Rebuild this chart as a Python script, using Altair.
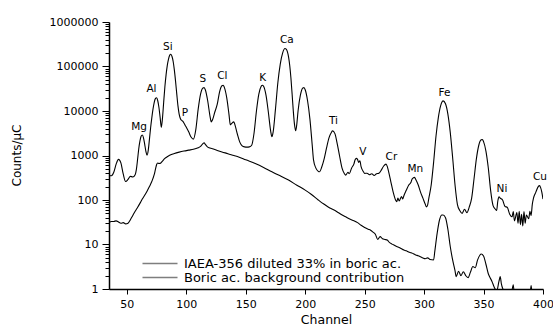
import altair as alt
import pandas as pd

S1 = "IAEA-356 diluted 33% in boric ac."
S2 = "Boric ac. background contribution"

# (channel, counts/uC)
iaea = [(35, 360),(37, 350),(39, 420),(41, 640),(43, 820),(45, 680),(47, 380),(49, 260),(51, 290),(53, 340),
        (55, 330),(57, 370),(58, 480),(59, 800),(60, 1400),(61, 2100),(62, 2700),(63, 2880),(64, 2500),(65, 1800),
        (66, 1250),(67, 1020),(68, 1300),(69, 2300),(70, 4200),(71, 7000),(72, 11000),(73, 15500),(74, 19000),
        (75, 19800),(76, 17000),(77, 12000),(78, 7200),(79, 4300),(80, 7000),(81, 16000),(82, 35000),(83, 65000),
        (84, 105000),(85, 145000),(86, 178000),(87, 188000),(88, 168000),(89, 128000),(90, 82000),(91, 46000),
        (92, 24000),(93, 13000),(94, 8500),(95, 6800),(96, 6200),(97, 5900),(98, 5400),(99, 4800),(100, 4300),
        (102, 3400),(104, 2600),(106, 2330),(108, 3800),(110, 11000),(112, 24000),(114, 33000),(115, 33600),
        (116, 30000),(118, 17000),(120, 7500),(121, 5700),(122, 6300),(124, 9500),(126, 14000),(128, 27000),
        (130, 37000),(131, 37900),(132, 34000),(134, 20000),(136, 8000),(137, 4900),(138, 5200),(140, 5700),
        (141, 4800),(143, 3000),(145, 2000),(147, 1650),(149, 1560),(151, 1540),(153, 1560),(155, 1700),
        (157, 3200),(159, 10000),(161, 24000),(163, 36000),(164, 37900),(165, 36000),(167, 23000),(169, 9500),
        (171, 3500),(172, 2630),(173, 3300),(175, 11000),(177, 43000),(179, 112000),(181, 200000),(183, 253000),
        (184, 245000),(185, 215000),(186, 165000),(187, 105000),(188, 55000),(189, 24000),(190, 10000),
        (191, 5000),(192, 3600),(193, 5200),(194, 10000),(196, 23000),(198, 33000),(199, 33600),(200, 30000),
        (202, 17000),(204, 6500),(206, 1600),(207, 800),(209, 520),(211, 440),(212, 430),(214, 560),(216, 850),
        (218, 1500),(220, 2500),(222, 3300),(223, 3570),(225, 3100),(227, 1800),(229, 950),(231, 520),(233, 390),
        (234, 363),(236, 420),(237, 390),(239, 520),(241, 650),(242, 800),(243, 860),(244, 820),(245, 700),
        (246, 760),(247, 560),(249, 430),(250, 395),(252, 400),(254, 370),(256, 390),(258, 355),(260, 390),
        (262, 400),(264, 470),(266, 580),(268, 640),(269, 570),(270, 450),(272, 260),(274, 150),(276, 100),
        (277, 91),(278, 110),(279, 95),(281, 120),(282, 105),(283, 125),(285, 165),(287, 215),(289, 250),
        (290, 300),(292, 322),(293, 290),(295, 220),(297, 150),(299, 110),(301, 80),(302, 70),(303, 78),
        (304, 110),(306, 220),(308, 700),(310, 2700),(312, 7200),(314, 13400),(316, 16900),(318, 14500),
        (320, 8500),(322, 3300),(324, 900),(326, 220),(328, 80),(330, 58),(332, 50),(334, 62),(336, 52),
        (338, 70),(340, 110),(342, 300),(344, 850),(346, 1700),(348, 2250),(349, 2290),(350, 2050),(352, 1260),
        (354, 525),(356, 160),(358, 75),(360, 62),(361, 58),(362, 95),(363, 118),(364, 110),(366, 100),
        (368, 72),(370, 68),(372, 48),(374, 42),(375, 55),(376, 34),(378, 52),(379, 30),(380, 56),(381, 28),
        (382, 48),(383, 26),(384, 55),(385, 30),(386, 46),(388, 38),(389, 56),(390, 45),(391, 80),(392, 110),
        (394, 150),(396, 200),(397, 210),(398, 190),(399, 150),(400, 105)]

boric = [(35, 31),(37, 33),(39, 33),(41, 34),(43, 32),(45, 30),(47, 31),(49, 29),(51, 30),(53, 36),(55, 45),
         (57, 56),(59, 68),(61, 84),(63, 105),(65, 128),(67, 158),(69, 200),(71, 260),(73, 370),(74, 480),
         (75, 620),(76, 680),(77, 660),(78, 665),(80, 750),(82, 860),(84, 940),(86, 1010),(90, 1110),(94, 1190),
         (98, 1260),(102, 1320),(106, 1380),(110, 1500),(112, 1600),(114, 1850),(115, 1930),(116, 1780),
         (118, 1540),(122, 1420),(126, 1300),(130, 1200),(135, 1100),(140, 1000),(144, 930),(150, 800),
         (158, 660),(165, 540),(172, 430),(179, 350),(186, 280),(193, 215),(200, 167),(205, 135),(211, 100),
         (213, 91),(216, 80),(220, 68),(223, 62),(227, 54),(230, 48),(234, 42),(237, 38),(241, 34),(244, 31),
         (247, 27),(250, 24),(253, 22),(255, 21),(257, 19),(259, 17),(261, 13),(263, 15),(265, 13.5),(267, 13),
         (269, 12.6),(271, 11),(273, 10.2),(275, 9.6),(277, 9),(279, 8.6),(281, 8),(283, 7.5),(285, 7.2),
         (287, 6.8),(289, 6.5),(291, 6.2),(293, 5.8),(295, 5.6),(297, 5.3),(299, 5.0),(301, 4.8),(303, 5.0),
         (305, 4.6),(308, 4.5),(309, 7),(311, 18),(313, 36),(315, 46),(316, 46),(318, 40),(320, 22),(322, 9),
         (324, 4.5),(326, 2.6),(327, 1.9),(329, 2.5),(331, 2.0),(333, 2.45),(335, 2.0),(337, 1.8),(339, 2.4),
         (341, 3.2),(343, 3.0),(345, 4.5),(347, 5.8),(348, 6.1),(350, 5.5),(352, 3.6),(354, 2.2),(355, 1.9),
         (357, 1.5),(359, 1.1),(361, 0.9),(363, 1.5),(364, 1.9),(365, 1.3),(367, 0.9),(369, 0.7),(373, 0.7),
         (375, 1.25),(376, 0.7),(389, 0.7),(390, 1.2),(391, 0.7),(400, 0.7)]

el_names = ["Mg", "Al", "Si", "P", "S", "Cl", "K", "Ca", "Ti", "V", "Cr", "Mn", "Fe", "Ni", "Cu"]
el_ch = [60.3, 70.7, 84.5, 98.9, 114.0, 130.3, 164.3, 184.6, 223.8, 248.4, 272.5, 292.7, 317.2, 365.5, 397.5]
el_val = [4300, 31000, 280000, 9200, 51700, 60600, 55500, 400000, 5900, 1200, 930, 510, 25500, 173, 330]

x_ticks = [50, 75, 100, 125, 150, 175, 200, 225, 250, 275, 300, 325, 350, 375, 400]
y_ticks = [1, 2, 3, 4, 5, 6, 7, 8, 9,
           10, 20, 30, 40, 50, 60, 70, 80, 90,
           100, 200, 300, 400, 500, 600, 700, 800, 900,
           1000, 2000, 3000, 4000, 5000, 6000, 7000, 8000, 9000,
           10000, 20000, 30000, 40000, 50000, 60000, 70000, 80000, 90000,
           100000, 200000, 300000, 400000, 500000, 600000, 700000, 800000, 900000,
           1000000]

rows = [{"channel": c, "counts": v, "series": S1} for c, v in iaea]
rows += [{"channel": c, "counts": v, "series": S2} for c, v in boric]
df = pd.DataFrame(rows)
lbl = pd.DataFrame({"name": el_names, "channel": el_ch, "counts": el_val})

FONT = "DejaVu Sans"
is_decade = "abs(log(datum.value)/LN10 - round(log(datum.value)/LN10)) < 0.000001"
is_major_x = "datum.value % 50 == 0"

xscale = alt.Scale(domain=[35, 400], nice=False, zero=False)
yscale = alt.Scale(type="log", domain=[1, 1000000], nice=False)

xaxis = alt.Axis(values=x_ticks, labelExpr=f"{is_major_x} ? datum.label : ''", grid=False,
                 tickSize={"condition": {"test": is_major_x, "value": 5}, "value": 3},
                 labelFont=FONT, labelFontSize=11, labelColor="black", labelPadding=4,
                 labelOverlap=False, labelFlush=False,
                 title="Channel", titleFont=FONT, titleFontSize=12.5, titleFontWeight="normal",
                 titleColor="black", titleY=34, titleBaseline="alphabetic")
yaxis = alt.Axis(values=y_ticks, format="d", labelExpr=f"{is_decade} ? datum.label : ''", grid=False,
                 tickSize={"condition": {"test": is_decade, "value": 7}, "value": 4},
                 labelFont=FONT, labelFontSize=11, labelColor="black", labelPadding=4,
                 labelOverlap=False, labelFlush=False,
                 title="Counts/\u03bcC", titleFont=FONT, titleFontSize=12, titleFontWeight="normal",
                 titleColor="black", titleX=-86, titleY=133)

lines = alt.Chart(df).mark_line(strokeWidth=1.1, interpolate="monotone", clip=True).encode(
    x=alt.X("channel:Q", scale=xscale, axis=xaxis),
    y=alt.Y("counts:Q", scale=yscale, axis=yaxis),
    color=alt.Color("series:N",
                    scale=alt.Scale(domain=[S1, S2], range=["black", "black"]),
                    legend=alt.Legend(title=None, orient="none", legendX=57, legendY=235,
                                      symbolType="M-6,0H1", symbolSize=100,
                                      symbolStrokeColor="#808080", symbolStrokeWidth=1.5,
                                      symbolOpacity=0.5,
                                      symbolFillColor="transparent",
                                      labelFont=FONT, labelFontSize=13, labelColor="black",
                                      labelOffset=5, padding=0, rowPadding=0, labelLimit=400)),
)

labels = alt.Chart(lbl).mark_text(font=FONT, fontSize=10.5, color="black",
                                  align="center", baseline="middle").encode(
    x=alt.X("channel:Q", scale=xscale),
    y=alt.Y("counts:Q", scale=yscale),
    text="name:N",
)

chart = alt.layer(lines, labels).properties(
    width=434, height=267,
    autosize=alt.AutoSizeParams(type="none"),
    padding={"left": 109, "top": 22, "right": 10, "bottom": 37},
).configure_view(stroke=None).configure_axis(
    domainColor="black", domainWidth=1.5, tickColor="black", tickWidth=1
)

chart.save("out.html", embed_options={"renderer": "svg", "actions": False})
